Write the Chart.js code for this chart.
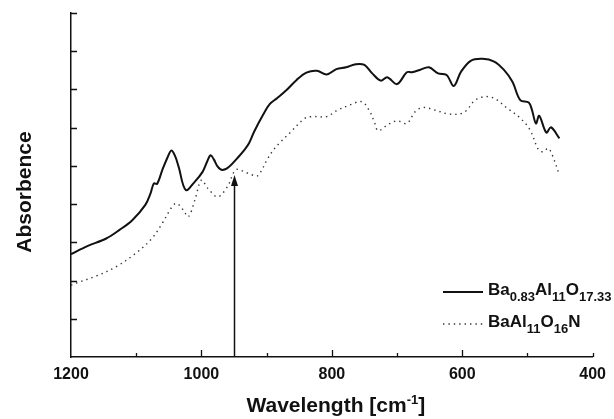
<!DOCTYPE html>
<html>
<head>
<meta charset="utf-8">
<script src="https://cdn.jsdelivr.net/npm/chart.js@4/dist/chart.umd.min.js"></script>
<style>
  html, body { margin: 0; padding: 0; background: #fff; }
  #wrap { width: 614px; height: 419px; }
</style>
</head>
<body>
<div id="wrap"><canvas id="spectrum"></canvas></div>
<script>
// Wavenumber positions (cm-1) and absorbance for the oxide sample
const oxideWavenumber = [1200, 1175, 1146, 1126, 1106, 1086, 1078, 1073, 1068, 1060, 1052, 1046, 1040, 1035, 1024, 1010, 998, 991, 986, 981, 975, 968, 958, 944, 934, 927, 919, 905, 895, 884, 869, 854, 839, 823, 808, 793, 778, 763, 750, 738, 725, 715, 700, 685, 677, 665, 651, 637, 624, 613, 602, 587, 569, 551, 536, 523, 511, 498, 493, 487, 482, 471, 464, 451];
const oxideAbsorbance = [2.69, 2.90, 3.10, 3.32, 3.58, 3.98, 4.28, 4.54, 4.53, 4.89, 5.22, 5.40, 5.24, 4.98, 4.37, 4.59, 4.85, 5.12, 5.28, 5.17, 4.98, 4.89, 4.97, 5.22, 5.42, 5.59, 5.90, 6.35, 6.62, 6.77, 6.99, 7.25, 7.44, 7.49, 7.39, 7.53, 7.58, 7.66, 7.64, 7.42, 7.23, 7.32, 7.14, 7.45, 7.45, 7.51, 7.58, 7.42, 7.38, 7.09, 7.46, 7.75, 7.80, 7.73, 7.51, 7.20, 6.72, 6.66, 6.46, 6.11, 6.31, 5.87, 6.01, 5.72];

// Same for the oxynitride sample
const nitrideWavenumber = [1200, 1191, 1161, 1131, 1101, 1076, 1060, 1045, 1038, 1028, 1020, 1010, 1000, 990, 975, 960, 950, 945, 929, 914, 907, 899, 889, 879, 864, 841, 828, 808, 793, 773, 754, 743, 735, 729, 715, 700, 685, 672, 660, 642, 622, 604, 594, 581, 566, 551, 531, 511, 496, 483, 476, 468, 460, 451];
const nitrideAbsorbance = [1.88, 1.94, 2.12, 2.36, 2.71, 3.10, 3.50, 3.93, 4.02, 3.85, 3.67, 4.11, 4.63, 4.41, 4.19, 4.46, 4.85, 4.91, 4.81, 4.74, 4.91, 5.17, 5.43, 5.62, 5.87, 6.25, 6.29, 6.29, 6.44, 6.59, 6.68, 6.46, 6.16, 5.92, 6.07, 6.18, 6.11, 6.42, 6.53, 6.46, 6.36, 6.36, 6.44, 6.71, 6.81, 6.77, 6.51, 6.25, 5.94, 5.42, 5.37, 5.46, 5.20, 4.76];

// Legend labels as [text, isSubscript] pieces
const oxideLabel = [['Ba', false], ['0.83', true], ['Al', false], ['11', true], ['O', false], ['17.33', true]];
const nitrideLabel = [['BaAl', false], ['11', true], ['O', false], ['16', true], ['N', false]];

// Axis ticks and the marker arrow
const xTickLabels = [1200, 1000, 800, 600, 400];
const xMinorTicks = [1100, 900, 700, 500];
const yTickValues = [1, 2, 3, 4, 5, 6, 7, 8, 9];
const arrowWavenumber = 950;
const arrowTop = 4.76;

const FONT = "'Liberation Sans', Arial, sans-serif";

function toPoints(xs, ys) {
  return xs.map((x, i) => ({ x: x, y: ys[i] }));
}

// draws "Ba0.83Al11..." style text, returns end x
function drawRichText(ctx, pieces, x, y) {
  pieces.forEach(([txt, sub]) => {
    ctx.font = sub ? `bold 13px ${FONT}` : `bold 17px ${FONT}`;
    ctx.fillText(txt, x, sub ? y + 6 : y);
    x += ctx.measureText(txt).width;
  });
  return x;
}

const decorations = {
  id: 'decorations',
  afterDatasetsDraw(chart) {
    const ctx = chart.ctx;
    const xs = chart.scales.x;
    const ys = chart.scales.y;
    const area = chart.chartArea;
    ctx.save();
    ctx.strokeStyle = '#111';
    ctx.fillStyle = '#111';
    ctx.lineWidth = 1.3;

    // inward tick marks
    ctx.beginPath();
    yTickValues.forEach(v => {
      const py = Math.round(ys.getPixelForValue(v)) + 0.5;
      ctx.moveTo(area.left, py);
      ctx.lineTo(area.left + 6, py);
    });
    xTickLabels.slice(1).forEach(v => {
      const px = Math.round(xs.getPixelForValue(v)) + 0.5;
      ctx.moveTo(px, area.bottom);
      ctx.lineTo(px, area.bottom - (v === 400 ? 4 : 7));
    });
    xMinorTicks.forEach(v => {
      const px = Math.round(xs.getPixelForValue(v)) + 0.5;
      ctx.moveTo(px, area.bottom);
      ctx.lineTo(px, area.bottom - 4);
    });
    ctx.stroke();

    // arrow up to the nitride band
    const ax = Math.round(xs.getPixelForValue(arrowWavenumber)) + 0.5;
    const aTop = ys.getPixelForValue(arrowTop);
    ctx.lineWidth = 1.5;
    ctx.beginPath();
    ctx.moveTo(ax, area.bottom);
    ctx.lineTo(ax, aTop + 8);
    ctx.stroke();
    ctx.beginPath();
    ctx.moveTo(ax, aTop);
    ctx.lineTo(ax - 3.5, aTop + 11);
    ctx.lineTo(ax + 3.5, aTop + 11);
    ctx.closePath();
    ctx.fill();

    // legend
    const rows = [
      { ds: chart.data.datasets[0], pieces: oxideLabel, y: 292 },
      { ds: chart.data.datasets[1], pieces: nitrideLabel, y: 324 }
    ];
    ctx.textBaseline = 'alphabetic';
    ctx.textAlign = 'left';
    rows.forEach(r => {
      ctx.save();
      ctx.strokeStyle = r.ds.borderColor;
      ctx.lineWidth = r.ds.borderWidth;
      ctx.setLineDash(r.ds.borderDash || []);
      ctx.beginPath();
      ctx.moveTo(443, r.y);
      ctx.lineTo(483, r.y);
      ctx.stroke();
      ctx.restore();
      drawRichText(ctx, r.pieces, 488, r.y + 3);
    });

    // axis titles
    const main = 'Wavelength [cm';
    const sup = '-1';
    const tail = ']';
    ctx.font = `bold 21px ${FONT}`;
    const w1 = ctx.measureText(main).width;
    const w3 = ctx.measureText(tail).width;
    ctx.font = `bold 13px ${FONT}`;
    const w2 = ctx.measureText(sup).width;
    let tx = (area.left + area.right) / 2 + 4 - (w1 + w2 + w3) / 2;
    const ty = 412;
    ctx.font = `bold 21px ${FONT}`;
    ctx.fillText(main, tx, ty);
    tx += w1;
    ctx.font = `bold 13px ${FONT}`;
    ctx.fillText(sup, tx, ty - 8);
    tx += w2;
    ctx.font = `bold 21px ${FONT}`;
    ctx.fillText(tail, tx, ty);

    ctx.translate(25, 192);
    ctx.rotate(-Math.PI / 2);
    ctx.textAlign = 'center';
    ctx.textBaseline = 'middle';
    ctx.fillText('Absorbence', 0, 0);
    ctx.restore();
  }
};

new Chart(document.getElementById('spectrum'), {
  type: 'line',
  data: {
    datasets: [
      {
        label: 'Ba0.83Al11O17.33',
        data: toPoints(oxideWavenumber, oxideAbsorbance),
        borderColor: '#111',
        borderWidth: 2,
        tension: 0.35,
        pointRadius: 0,
        fill: false
      },
      {
        label: 'BaAl11O16N',
        data: toPoints(nitrideWavenumber, nitrideAbsorbance),
        borderColor: '#333',
        borderWidth: 1.4,
        borderDash: [1.4, 4],
        tension: 0.35,
        pointRadius: 0,
        fill: false
      }
    ]
  },
  options: {
    responsive: true,
    maintainAspectRatio: false,
    animation: false,
    layout: { padding: { top: 13, right: 14, left: 0, bottom: 0 } },
    plugins: { legend: { display: false }, tooltip: { enabled: false } },
    scales: {
      x: {
        type: 'linear',
        reverse: true,
        min: 400,
        max: 1200,
        afterFit(scale) { scale.height = 62; },
        afterBuildTicks(scale) { scale.ticks = xTickLabels.map(v => ({ value: v })); },
        ticks: {
          padding: 8,
          color: '#111',
          font: { family: FONT, size: 16, weight: 'bold' },
          callback: v => String(v)
        },
        grid: { display: false, drawTicks: false },
        border: { display: true, color: '#111', width: 1.5 }
      },
      y: {
        min: 0,
        max: 9,
        afterFit(scale) { scale.width = 71; },
        ticks: { display: false, stepSize: 1 },
        grid: { display: false, drawTicks: false },
        border: { display: true, color: '#111', width: 1.5 }
      }
    }
  },
  plugins: [decorations]
});
</script>
</body>
</html>
